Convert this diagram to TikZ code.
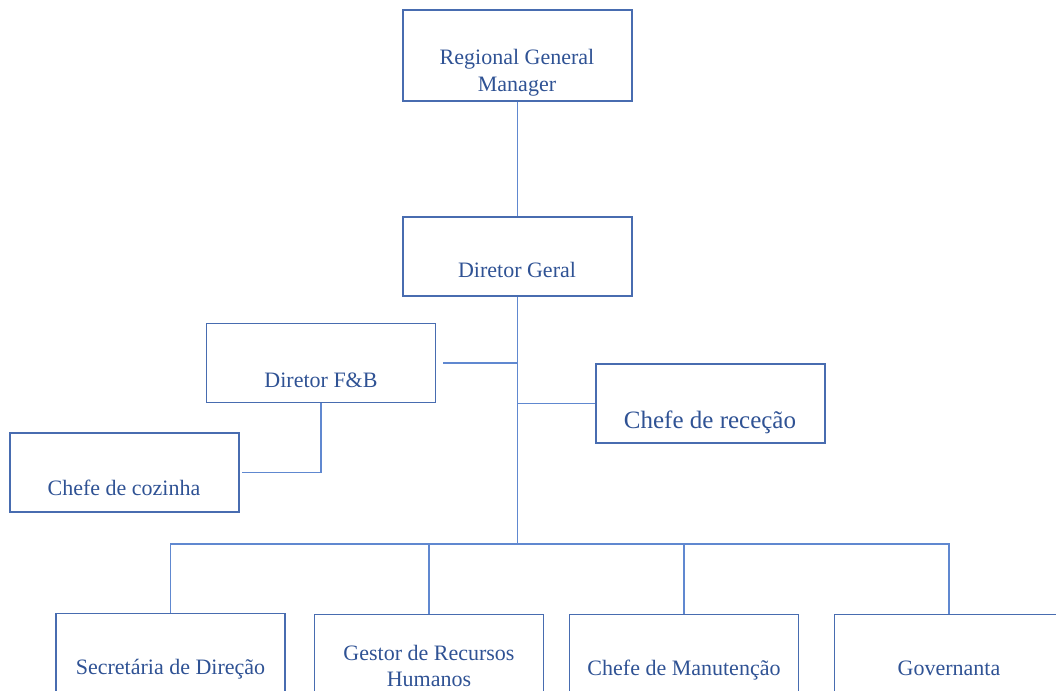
\documentclass[tikz,border=0pt]{standalone}
\usepackage{fontspec}
\setmainfont{Liberation Serif}
\definecolor{boxc}{RGB}{72,108,176}
\definecolor{linec}{RGB}{96,136,208}
\definecolor{txtc}{RGB}{47,82,148}
\begin{document}
\begin{tikzpicture}[x=1pt,y=-1pt,
  box/.style={draw=boxc, line width=1.3pt, minimum width=229pt, minimum height=79pt, inner sep=0pt},
  lbl/.style={text=txtc, font=\fontsize{22}{26}\selectfont, align=center, inner sep=0pt},
  conn/.style={draw=linec, line width=1.3pt}]
\useasboundingbox (0,0) rectangle (1056,690);
\clip (0,0) rectangle (1056,690);
% boxes
\node[box, minimum height=91pt] (rgm) at (517.5,55.5) {};
\node[box] (dg)  at (517.5,256.5) {};
\node[box] (fb)  at (321,363) {};
\node[box] (rec) at (710.5,403.5) {};
\node[box] (coz) at (124.5,472.5) {};
\node[box] (sec) at (170.5,653) {};
\node[box] (ges) at (429,654) {};
\node[box] (man) at (684,654) {};
\node[box] (gov) at (949,654) {};
% labels
\node[lbl, font=\fontsize{22}{27}\selectfont] (rgm-t) at (517,72.5) {Regional General\\Manager};
\node[lbl, anchor=base] (dg-t) at (517,277) {Diretor Geral};
\node[lbl, anchor=base] (fb-t) at (321,387) {Diretor F\&B};
\node[lbl, anchor=base, font=\fontsize{25}{30}\selectfont] (rec-t) at (710,428) {Chefe de receção};
\node[lbl, anchor=base] (coz-t) at (124,495) {Chefe de cozinha};
\node[lbl, anchor=base] (sec-t) at (170.5,674) {Secretária de Direção};
\node[lbl] (ges-t) at (429,666) {Gestor de Recursos\\Humanos};
\node[lbl, anchor=base] (man-t) at (684,675) {Chefe de Manutenção};
\node[lbl, anchor=base] (gov-t) at (949,675) {Governanta};
% connectors
\coordinate (j) at (517,544);
\coordinate (fbend) at (443,363);
\draw[conn] (rgm.south) -- (dg.north);
\draw[conn] (dg.south) -- (dg.south |- j);
\draw[conn] (fbend) -- (fbend -| dg.south);
\draw[conn] (dg.south |- rec.west) -- (rec.west);
\draw[conn] (fb.south) |- ([xshift=2pt]coz.east);
\draw[conn] (sec.north) -- (sec.north |- j) -- (gov.north |- j) -- (gov.north);
\draw[conn] (ges.north) -- (ges.north |- j);
\draw[conn] (man.north) -- (man.north |- j);
\end{tikzpicture}
\end{document}
